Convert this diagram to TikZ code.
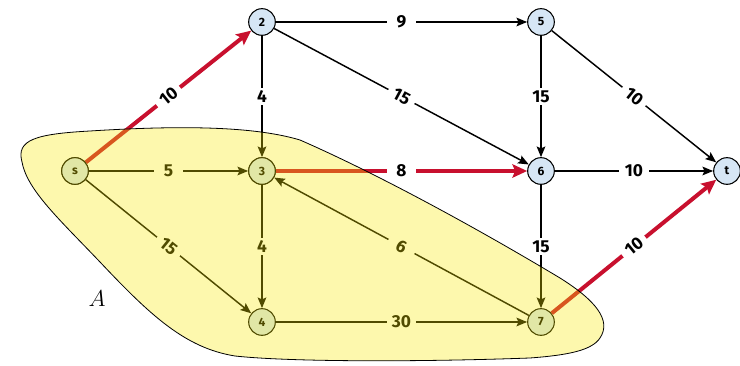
\documentclass[tikz,border=0pt]{standalone}
\usepackage{fontspec}
\setsansfont{Fira Sans}
\usetikzlibrary{arrows.meta}
\definecolor{nodeblue}{RGB}{214,230,245}
\definecolor{flowred}{RGB}{200,16,46}
\definecolor{blobyellow}{RGB}{250,234,0}
\begin{document}
\begin{tikzpicture}[x=0.75pt,y=-0.75pt,
  vtx/.style={circle,draw,fill=nodeblue,minimum size=20pt,inner sep=0pt,line width=0.8pt,
    font=\sffamily\bfseries\fontsize{9}{10}\selectfont},
  edge/.style={line width=1.1pt,-{Stealth[length=8pt,width=6.5pt,inset=1.5pt]}},
  flow/.style={line width=3pt,draw=flowred,-{Stealth[length=11pt,width=10pt,inset=2pt]}},
  lbl/.style={fill=white,inner sep=2pt,minimum width=22pt,
    font=\sffamily\bfseries\fontsize{13}{15}\selectfont},
  blob/.style={line width=0.6pt,fill=blobyellow,fill opacity=0.32}]
\useasboundingbox (0,0) rectangle (740,366);
% vertices
\node[vtx] (s) at (75,171) {s};
\node[vtx] (n2) at (262,22) {2};
\node[vtx] (n5) at (541,22) {5};
\node[vtx] (n3) at (262,171) {3};
\node[vtx] (n6) at (541,171) {6};
\node[vtx] (t) at (727,171) {t};
\node[vtx] (n4) at (262,322) {4};
\node[vtx] (n7) at (541,322) {7};
% edges
\draw[edge] (s) -- node[lbl] {5} (n3);
\draw[edge] (s) -- node[lbl,sloped] {15} (n4);
\draw[edge] (n2) -- node[lbl] {9} (n5);
\draw[edge] (n2) -- node[lbl] {4} (n3);
\draw[edge] (n2) -- node[lbl,sloped] {15} (n6);
\draw[edge] (n5) -- node[lbl] {15} (n6);
\draw[edge] (n5) -- node[lbl,sloped] {10} (t);
\draw[edge] (n6) -- node[lbl] {10} (t);
\draw[edge] (n3) -- node[lbl] {4} (n4);
\draw[edge] (n7) -- node[lbl,sloped] {6} (n3);
\draw[edge] (n6) -- node[lbl] {15} (n7);
\draw[edge] (n4) -- node[lbl] {30} (n7);
\draw[flow] (s) -- node[lbl,sloped] {10} (n2);
\draw[flow] (n3) -- node[lbl] {8} (n6);
\draw[flow] (n7) -- node[lbl,sloped] {10} (t);
% redraw vertices on top
\node[vtx] at (s) {s};
\node[vtx] at (n3) {3};
% set A
\draw[blob] (22,162)
  .. controls (16,140) and (35,134) .. (90,131)
  .. controls (170,126) and (250,125) .. (300,140)
  .. controls (380,175) and (480,230) .. (560,278)
  .. controls (595,300) and (612,320) .. (600,338)
  .. controls (592,350) and (570,355) .. (530,358)
  .. controls (420,362) and (290,362) .. (235,356)
  .. controls (185,348) and (150,315) .. (100,262)
  .. controls (60,220) and (27,190) .. (22,162) -- cycle;
\node (A) at (97,299) {\fontsize{19}{22}\selectfont$A$};
\end{tikzpicture}
\end{document}
